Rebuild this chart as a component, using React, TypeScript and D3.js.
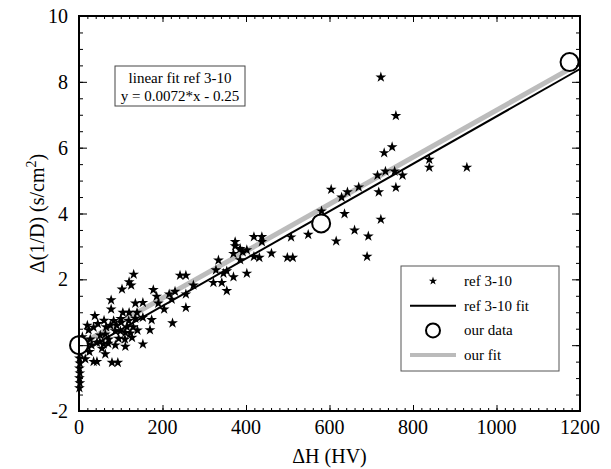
import { useEffect, useRef } from 'react';
import * as d3 from 'd3';

// ref 3-10 measurements (ΔH in HV, Δ(1/D) in s/cm²)
const refX = [
  723, 759, 731, 750, 715, 734, 756, 775, 839, 839, 929, 604, 643, 629, 670, 718, 759, 581, 636, 723, 660, 693, 616, 690,
  549, 508, 419, 438, 438, 374, 374, 386, 392, 402, 370, 419, 432, 461, 499, 512, 386, 370, 402,
  334, 328, 346, 354, 322, 342, 354, 242, 256, 274, 178, 186, 216, 230, 222, 256, 153, 190, 204, 256, 153, 174, 170, 224, 153,
  131, 120, 125, 103, 77, 77, 135, 105, 120, 139, 38, 83, 101, 119, 135, 23, 35, 51, 63, 71, 87, 99, 111, 123, 127, 110, 87, 111,
  63, 59, 43, 19, 15, 27, 15, 35, 43, 79, 93,
  2, 3, 1, 2, 1, 2, 1, 2, 1,
  5, 10, 25, 30, 50, 55, 70, 95, 8, 20, 45, 65, 75, 90, 100, 115, 130, 140, 60,
];
const refY = [
  8.14, 6.97, 5.84, 6.02, 5.16, 5.28, 5.28, 5.16, 5.64, 5.4, 5.4, 4.73, 4.65, 4.49, 4.8, 4.65, 4.79, 4.07, 3.99, 3.82, 3.49, 3.31, 3.16, 2.69,
  3.36, 3.28, 3.29, 3.29, 3.14, 3.14, 3.01, 2.93, 2.83, 2.89, 2.78, 2.69, 2.66, 2.79, 2.66, 2.66, 2.59, 2.07, 2.18,
  2.58, 2.28, 2.18, 2.25, 1.9, 1.9, 1.65, 2.12, 2.12, 1.82, 1.68, 1.48, 1.55, 1.63, 1.39, 1.55, 1.29, 1.27, 1.09, 1.14, 0.84, 0.77, 0.46, 0.67, 0.03,
  2.15, 1.92, 1.82, 1.7, 1.37, 1.09, 1.27, 0.99, 0.99, 0.99, 0.89, 0.74, 0.69, 0.74, 0.81, 0.46, 0.54, 0.3, 0.33, 0.18, 0.43, 0.43, 0.38, 0.36, 0.23, 0.18, 0.0, -0.04,
  -0.27, 0.03, 0.08, 0.03, -0.12, 0.18, -0.42, -0.5, -0.5, -0.53, -0.53,
  -0.1, -0.25, -0.4, -0.55, -0.7, -0.85, -1.0, -1.15, -1.3,
  0.1, -0.05, -0.2, 0.0, 0.1, -0.1, 0.05, 0.2, 0.25, 0.6, 0.65, 0.55, 0.6, 0.6, 0.8, 0.55, 0.55, 0.45, 0.75,
];

// our data
const ourX = [0, 580, 1175];
const ourY = [0.0, 3.7, 8.6];

// fits: y = slope*x + intercept, drawn over the x range
const fitX = [0, 1200];
const refFit = { slope: 0.0072, intercept: -0.25 };
const ourFit = { slope: 0.00714, intercept: 0 };

const xTicks = [0, 200, 400, 600, 800, 1000, 1200];
const yTickLabels = [-2, 2, 4, 6, 8, 10];

const legendItems = ['ref 3-10', 'ref 3-10 fit', 'our data', 'our fit'];
const annotation = ['linear fit ref 3-10', 'y = 0.0072*x - 0.25'];

export default function App() {
  const svgRef = useRef<SVGSVGElement | null>(null);

  useEffect(() => {
    const el = svgRef.current;
    if (!el) return;
    const svg = d3.select(el);
    svg.selectAll('*').remove();

    const font = 'Liberation Serif, Times New Roman, serif';
    const m = { left: 79, right: 580, top: 16, bottom: 411 };
    const x = d3.scaleLinear().domain([0, 1200]).range([m.left, m.right]);
    const y = d3.scaleLinear().domain([-2, 10]).range([m.bottom, m.top]);

    // fit lines
    const ln = d3.line<number>().x((d) => x(d));
    svg.append('path')
      .datum(fitX)
      .attr('d', ln.y((d) => y(ourFit.slope * d + ourFit.intercept)))
      .attr('fill', 'none')
      .attr('stroke', '#bcbcbc')
      .attr('stroke-width', 5);
    svg.append('path')
      .datum(fitX)
      .attr('d', ln.y((d) => y(refFit.slope * d + refFit.intercept)))
      .attr('fill', 'none')
      .attr('stroke', '#000')
      .attr('stroke-width', 2);

    // stars
    const star = d3.symbol(d3.symbolStar, 36)();
    svg.append('g')
      .selectAll('path')
      .data(refX.map((v, i) => [v, refY[i]]))
      .join('path')
      .attr('d', star)
      .attr('transform', (d) => `translate(${x(d[0])},${y(d[1])})`)
      .attr('fill', '#000');

    // our data circles
    svg.append('g')
      .selectAll('circle')
      .data(ourX.map((v, i) => [v, ourY[i]]))
      .join('circle')
      .attr('cx', (d) => x(d[0]))
      .attr('cy', (d) => y(d[1]))
      .attr('r', 9)
      .attr('fill', '#fff')
      .attr('stroke', '#000')
      .attr('stroke-width', 2);

    // frame + inward ticks
    const styleAxis = (g: any) => {
      g.select('.domain').remove();
      g.selectAll('line').attr('stroke', '#000').attr('stroke-width', 1);
    };
    const minorX = d3.range(0, 1201, 20);
    const minorY = d3.range(-2, 10.01, 0.5);
    const majorY = d3.range(-2, 10.01, 2);

    svg.append('g').attr('transform', `translate(0,${m.bottom})`)
      .call(d3.axisTop(x).tickValues(minorX).tickSize(3).tickFormat(() => ''))
      .call(styleAxis);
    svg.append('g').attr('transform', `translate(0,${m.bottom})`)
      .call(d3.axisTop(x).tickValues(xTicks).tickSize(6).tickFormat(() => ''))
      .call(styleAxis);
    svg.append('g').attr('transform', `translate(0,${m.top})`)
      .call(d3.axisBottom(x).tickValues(minorX).tickSize(3).tickFormat(() => ''))
      .call(styleAxis);
    svg.append('g').attr('transform', `translate(0,${m.top})`)
      .call(d3.axisBottom(x).tickValues(xTicks).tickSize(6).tickFormat(() => ''))
      .call(styleAxis);
    svg.append('g').attr('transform', `translate(${m.left},0)`)
      .call(d3.axisRight(y).tickValues(minorY).tickSize(4).tickFormat(() => ''))
      .call(styleAxis);
    svg.append('g').attr('transform', `translate(${m.left},0)`)
      .call(d3.axisRight(y).tickValues(majorY).tickSize(8).tickFormat(() => ''))
      .call(styleAxis);
    svg.append('g').attr('transform', `translate(${m.right},0)`)
      .call(d3.axisLeft(y).tickValues(minorY).tickSize(4).tickFormat(() => ''))
      .call(styleAxis);
    svg.append('g').attr('transform', `translate(${m.right},0)`)
      .call(d3.axisLeft(y).tickValues(majorY).tickSize(8).tickFormat(() => ''))
      .call(styleAxis);

    svg.append('rect')
      .attr('x', m.left).attr('y', m.top)
      .attr('width', m.right - m.left).attr('height', m.bottom - m.top)
      .attr('fill', 'none').attr('stroke', '#000').attr('stroke-width', 2);

    // tick labels
    svg.append('g')
      .selectAll('text')
      .data(xTicks)
      .join('text')
      .attr('x', (d) => x(d))
      .attr('y', m.bottom + 23)
      .attr('text-anchor', 'middle')
      .attr('font-family', font).attr('font-size', 20)
      .text((d) => d);
    svg.append('g')
      .selectAll('text')
      .data(yTickLabels)
      .join('text')
      .attr('x', m.left - 11)
      .attr('y', (d) => y(d) + 7)
      .attr('text-anchor', 'end')
      .attr('font-family', font).attr('font-size', 20)
      .text((d) => d);

    // axis titles
    svg.append('text')
      .attr('x', (m.left + m.right) / 2)
      .attr('y', 463)
      .attr('text-anchor', 'middle')
      .attr('font-family', font).attr('font-size', 20)
      .text('ΔH (HV)');
    const yt = svg.append('text')
      .attr('transform', `translate(44,${(m.top + m.bottom) / 2}) rotate(-90)`)
      .attr('text-anchor', 'middle')
      .attr('font-family', font).attr('font-size', 20);
    yt.append('tspan').text('Δ(1/D) (s/cm');
    yt.append('tspan').attr('font-size', 14).attr('dy', -8).text('2');
    yt.append('tspan').attr('dy', 8).text(')');

    // annotation box
    svg.append('rect')
      .attr('x', 115).attr('y', 66).attr('width', 130).attr('height', 40)
      .attr('fill', '#fff').attr('stroke', '#444').attr('stroke-width', 1);
    svg.append('g')
      .selectAll('text')
      .data(annotation)
      .join('text')
      .attr('x', 180)
      .attr('y', (_, i) => 83 + i * 18)
      .attr('text-anchor', 'middle')
      .attr('font-family', font).attr('font-size', 15)
      .text((d) => d);

    // legend
    const lg = svg.append('g');
    lg.append('rect')
      .attr('x', 401).attr('y', 266).attr('width', 158).attr('height', 105)
      .attr('fill', '#fff').attr('stroke', '#555').attr('stroke-width', 1);
    const rowY = (i: number) => 281 + i * 24.7;
    const sx = 433;
    lg.append('path').attr('d', d3.symbol(d3.symbolStar, 22)()).attr('transform', `translate(${sx},${rowY(0)})`);
    lg.append('line').attr('x1', 410).attr('x2', 456).attr('y1', rowY(1)).attr('y2', rowY(1))
      .attr('stroke', '#000').attr('stroke-width', 2);
    lg.append('circle').attr('cx', sx).attr('cy', rowY(2)).attr('r', 7)
      .attr('fill', 'none').attr('stroke', '#000').attr('stroke-width', 2);
    lg.append('line').attr('x1', 410).attr('x2', 456).attr('y1', rowY(3)).attr('y2', rowY(3))
      .attr('stroke', '#bbb').attr('stroke-width', 4);
    lg.selectAll('text.lab')
      .data(legendItems)
      .join('text')
      .attr('class', 'lab')
      .attr('x', 464)
      .attr('y', (_, i) => rowY(i) + 5)
      .attr('font-family', font).attr('font-size', 15)
      .text((d) => d);
  }, []);

  return (
    <svg
      ref={svgRef}
      width={611}
      height={469}
      style={{ position: 'absolute', left: 0, top: 0, background: '#fff' }}
    />
  );
}
